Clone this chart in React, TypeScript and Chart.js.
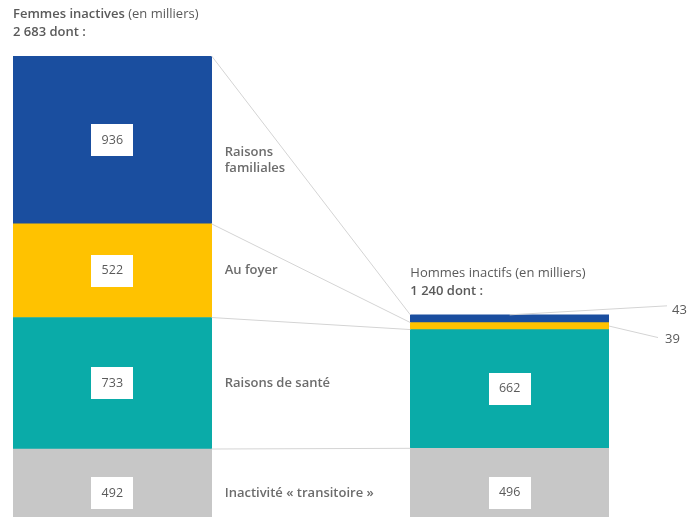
import React, { useEffect, useRef } from "react";
import { Chart, registerables } from "chart.js";

Chart.register(...registerables);

const categories = ["Femmes", "", "Hommes"];
const reasons = ["Inactivité « transitoire »", "Raisons de santé", "Au foyer", "Raisons familiales"];
const reasonLines = [["Inactivité « transitoire »"], ["Raisons de santé"], ["Au foyer"], ["Raisons", "familiales"]];
const femmes = [492, 733, 522, 936];
const hommes = [496, 662, 39, 43];
const titles = [
  { bold: "Femmes inactives", normal: " (en milliers)" },
  { bold: "", normal: "Hommes inactifs (en milliers)" },
];
const colors = ["#c7c7c7", "#0aaba8", "#ffc200", "#1a4e9f"];

const FONT = "'Open Sans', 'Noto Sans', sans-serif";
const TEXT = "#5a5a5a";
const LINE = "#d4d4d4";

const fmt = (n: number) => String(n).replace(/\B(?=(\d{3})+(?!\d))/g, " ");

const overlay = {
  id: "overlay",
  afterDatasetsDraw(chart: any) {
    const ctx = chart.ctx;
    const metas = chart.data.datasets.map((_: any, i: number) => chart.getDatasetMeta(i));
    const L = 0, R = 2;
    ctx.save();
    // connecting lines between the tops of each segment
    ctx.strokeStyle = LINE;
    ctx.lineWidth = 1;
    metas.forEach((m: any) => {
      const a = m.data[L], b = m.data[R];
      ctx.beginPath();
      ctx.moveTo(a.x + a.width / 2, a.y);
      ctx.lineTo(b.x - b.width / 2, b.y);
      ctx.stroke();
    });
    // small-value leaders (right bar)
    const blue = metas[3].data[R];
    const yel = metas[2].data[R];
    const rEdge = blue.x + blue.width / 2;
    ctx.beginPath();
    ctx.moveTo(blue.x, blue.y);
    ctx.lineTo(rEdge + 58, blue.y - 9);
    ctx.stroke();
    ctx.beginPath();
    ctx.moveTo(rEdge, (yel.y + yel.base) / 2);
    ctx.lineTo(rEdge + 49, yel.y + 15);
    ctx.stroke();
    ctx.fillStyle = TEXT;
    ctx.font = `13px ${FONT}`;
    ctx.textBaseline = "middle";
    ctx.textAlign = "left";
    ctx.fillText(String(hommes[3]), rEdge + 63, blue.y - 5);
    ctx.fillText(String(hommes[2]), rEdge + 56, yel.y + 17);

    // value boxes
    metas.forEach((m: any, di: number) => {
      [L, R].forEach((j) => {
        const el = m.data[j];
        const v = chart.data.datasets[di].data[j];
        if (v == null || v < 100) return;
        const cy = (el.y + el.base) / 2;
        ctx.fillStyle = "#ffffff";
        ctx.fillRect(Math.round(el.x) - 21, Math.round(cy) - 16, 42, 32);
        ctx.fillStyle = TEXT;
        ctx.font = `12.5px ${FONT}`;
        ctx.textAlign = "center";
        ctx.fillText(String(v), el.x, cy);
      });
    });

    // reason labels
    metas.forEach((m: any, di: number) => {
      const el = m.data[L];
      const cy = (el.y + el.base) / 2;
      const lines = reasonLines[di];
      const x = el.x + el.width / 2 + 13;
      ctx.fillStyle = "#6c6c6c";
      ctx.font = `600 13px ${FONT}`;
      ctx.textAlign = "left";
      const off = lines.length > 1 ? 20 : 0;
      lines.forEach((t: string, k: number) => {
        ctx.fillText(t, x, cy + off + (k - (lines.length - 1) / 2) * 16);
      });
    });

    // titles
    const totals = [femmes.reduce((a, b) => a + b, 0), hommes.reduce((a, b) => a + b, 0)];
    [L, R].forEach((j, k) => {
      const el = metas[3].data[j];
      const x = el.x - el.width / 2;
      const top = el.y;
      ctx.textAlign = "left";
      ctx.fillStyle = TEXT;
      let cx = x;
      if (titles[k].bold) {
        ctx.font = `600 13px ${FONT}`;
        ctx.fillText(titles[k].bold, cx, top - 42);
        cx += ctx.measureText(titles[k].bold).width;
      }
      ctx.font = `13px ${FONT}`;
      ctx.fillText(titles[k].normal, cx, top - 42);
      ctx.font = `600 13px ${FONT}`;
      ctx.fillText(`${fmt(totals[k])} dont :`, x, top - 24);
    });
    ctx.restore();
  },
};

export default function App() {
  const ref = useRef<HTMLCanvasElement>(null);
  useEffect(() => {
    if (!ref.current) return;
    const chart = new Chart(ref.current, {
      type: "bar",
      data: {
        labels: categories,
        datasets: reasons.map((r, i) => ({
          label: r,
          data: [femmes[i], null, hommes[i]],
          backgroundColor: colors[i],
          borderWidth: 0,
          barPercentage: 1,
          categoryPercentage: 1,
        })),
      },
      options: {
        animation: false,
        responsive: false,
        layout: { padding: { top: 56, bottom: 0, left: 13, right: 88 } },
        plugins: { legend: { display: false }, tooltip: { enabled: false }, title: { display: false } },
        scales: {
          x: { stacked: true, display: false },
          y: { stacked: true, display: false, min: 113, max: 2683 },
        },
      },
      plugins: [overlay],
    });
    return () => chart.destroy();
  }, []);
  return (
    <div style={{ position: "absolute", left: 0, top: 0, width: 697, height: 517, background: "#fff" }}>
      <canvas ref={ref} width={697} height={517} />
    </div>
  );
}
